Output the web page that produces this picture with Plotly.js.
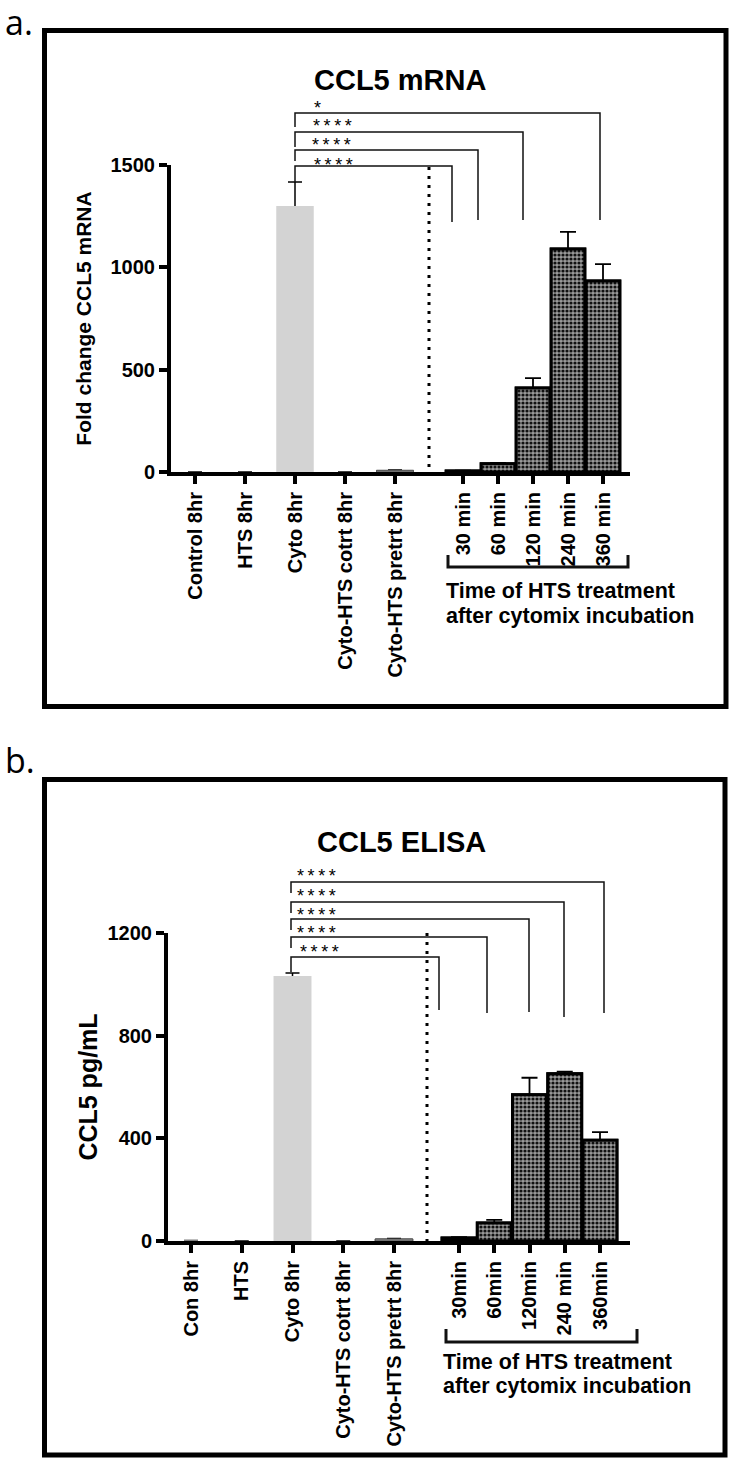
<!DOCTYPE html>
<html><head><meta charset="utf-8">
<script src="https://cdn.plot.ly/plotly-3.0.1.min.js"></script>
<style>html,body{margin:0;padding:0;background:#fff}</style>
</head><body><div id="chart" style="width:736px;height:1465px"></div>
<script>
// ---------- DATA ----------
// Panel a: CCL5 mRNA (fold change)
const catsA1 = ['Control 8hr', 'HTS 8hr', 'Cyto 8hr', 'Cyto-HTS cotrt 8hr', 'Cyto-HTS pretrt 8hr'];
const valsA1 = [1, 1, 1300, 1, 8];
const errA1  = [0, 0, 117, 0, 2];
const catsA2 = ['30 min', '60 min', '120 min', '240 min', '360 min'];
const valsA2 = [5, 40, 410, 1090, 933];
const errA2  = [1, 4, 49, 83, 83];
const ticksA = [0, 500, 1000, 1500];
const sigA   = ['*', '****', '****', '****'];

// Panel b: CCL5 ELISA (pg/mL)
const catsB1 = ['Con 8hr', 'HTS', 'Cyto 8hr', 'Cyto-HTS cotrt 8hr', 'Cyto-HTS pretrt 8hr'];
const valsB1 = [2, 1, 1032, 1, 8];
const errB1  = [0, 0, 12, 0, 2];
const catsB2 = ['30min', '60min', '120min', '240 min', '360min'];
const valsB2 = [12, 70, 570, 652, 393];
const errB2  = [3, 12, 66, 8, 31];
const ticksB = [0, 400, 800, 1200];
const sigB   = ['****', '****', '****', '****', '****'];

const titleA = 'CCL5 mRNA', ytitleA = 'Fold change CCL5 mRNA';
const titleB = 'CCL5 ELISA', ytitleB = 'CCL5 pg/mL';
const groupNote = ['Time of HTS treatment', 'after cytomix incubation'];

// ---------- LAYOUT HELPERS ----------
const W = 736, H = 1465;
const px = v => v / W;
const py = v => 1 - v / H;
const FONT = 'Liberation Sans, Arial, sans-serif';

function catRange(leftPx, rightPx, firstTickPx, stepPx) {
  return [(leftPx - firstTickPx) / stepPx, (rightPx - firstTickPx) / stepPx];
}

const axisBase = {
  showline: true, linecolor: '#000', linewidth: 4,
  ticks: 'outside', ticklen: 8, tickwidth: 4, tickcolor: '#000',
  showgrid: false, zeroline: false, fixedrange: true,
  tickfont: {family: FONT, size: 20, color: '#000', weight: 'bold'}
};

function xAxis(domL, domR, firstTick, step, anchor) {
  return Object.assign({}, axisBase, {
    type: 'category', domain: [px(domL), px(domR)],
    range: catRange(domL, domR, firstTick, step), anchor: anchor, tickangle: -90
  });
}
function yAxis(bottom, top, maxV, tickvals, anchor, title, tsize, standoff) {
  return Object.assign({}, axisBase, {
    domain: [py(bottom), py(top)], range: [0, maxV], tickvals: tickvals, anchor: anchor,
    title: {text: title, font: {family: FONT, size: tsize, color: '#000', weight: 'bold'}, standoff: standoff}
  });
}

const plainMarker = {color: ['#ffffff', '#ffffff', '#d3d3d3', '#ffffff', '#8c8c8c'],
                     line: {color: '#555', width: [0, 0, 0, 0, 1]}};
const patternMarker = {
  color: '#9a9a9a',
  pattern: {shape: '.', fgcolor: '#111', bgcolor: '#9a9a9a', size: 4, solidity: 0.5},
  line: {color: '#000', width: 3}
};

// each group: bars carrying the (upward) error bars, then the same bars drawn again on top
// so that only the part of the error bar above the bar is visible (GraphPad style)
function barGroup(cats, vals, errs, xa, ya, marker, width, thick, capw) {
  const withErr = {
    type: 'bar', x: cats, y: vals, xaxis: xa, yaxis: ya, width: width, marker: marker,
    error_y: {type: 'data', symmetric: false, array: errs, arrayminus: vals,
              color: '#000', thickness: thick, width: capw},
    hoverinfo: 'x+y', showlegend: false
  };
  const cover = {
    type: 'bar', x: cats, y: vals, xaxis: xa, yaxis: ya, width: width, marker: marker,
    hoverinfo: 'skip', showlegend: false
  };
  return [withErr, cover];
}

const traces = [].concat(
  barGroup(catsA1, valsA1, errA1, 'x', 'y', plainMarker, 0.74, 1.5, 7),
  barGroup(catsA2, valsA2, errA2, 'x2', 'y', patternMarker, 0.96, 1.8, 8),
  barGroup(catsB1, valsB1, errB1, 'x3', 'y2', plainMarker, 0.74, 1.5, 7),
  barGroup(catsB2, valsB2, errB2, 'x4', 'y2', patternMarker, 0.96, 1.8, 8)
);

// ---------- ANNOTATION GEOMETRY (pixels) ----------
const shapes = [];
const annotations = [];
function line(x0, y0, x1, y1, w, dash) {
  shapes.push({type: 'line', xref: 'paper', yref: 'paper', x0: px(x0), y0: py(y0), x1: px(x1), y1: py(y1),
               line: {color: '#000', width: w, dash: dash || 'solid'}});
}
function pathShape(pts, w) {
  const d = pts.map((p, i) => (i ? 'L' : 'M') + px(p[0]) + ',' + py(p[1])).join(' ');
  shapes.push({type: 'path', xref: 'paper', yref: 'paper', path: d, line: {color: '#111', width: w}});
}
function text(t, x, y, size, opts) {
  annotations.push(Object.assign({
    text: t, xref: 'paper', yref: 'paper', x: px(x), y: py(y), showarrow: false,
    xanchor: 'left', yanchor: 'middle', font: {family: FONT, size: size, color: '#000'}
  }, opts || {}));
}
const spaced = s => s.split('').join('\u2009');

// panel frames
shapes.push({type: 'rect', xref: 'paper', yref: 'paper', x0: px(44.5), x1: px(726), y0: py(30.5), y1: py(706.5), line: {color: '#000', width: 5}});
shapes.push({type: 'rect', xref: 'paper', yref: 'paper', x0: px(44.5), x1: px(725), y0: py(779.5), y1: py(1455), line: {color: '#000', width: 5}});

// dotted separators
line(429, 167, 429, 472, 3, '3px,6px');
line(427, 933, 427, 1241, 3, '3px,6px');

// significance brackets panel a
const STAR = 18;
const brA = [
  {y: 113, xl: 295, xr: 600, yl: 127, yr: 220, sx: 312, sy: 105},
  {y: 132, xl: 295, xr: 523, yl: 147, yr: 220, sx: 311, sy: 123},
  {y: 150, xl: 295, xr: 478, yl: 161, yr: 220, sx: 310, sy: 142},
  {y: 166, xl: 295, xr: 452, yl: 182, yr: 222, sx: 312, sy: 162}
];
brA.forEach((b, i) => {
  pathShape([[b.xl, b.yl], [b.xl, b.y], [b.xr, b.y], [b.xr, b.yr]], 1.5);
  text(spaced(sigA[i]), b.sx, b.sy + 3, STAR);
});
// significance brackets panel b
const brB = [
  {y: 882, xl: 291, xr: 604, yl: 893, yr: 1013, sx: 295, sy: 873},
  {y: 902, xl: 291, xr: 564, yl: 913, yr: 1017, sx: 295, sy: 893},
  {y: 919, xl: 291, xr: 529, yl: 930, yr: 1012, sx: 295, sy: 912},
  {y: 937, xl: 291, xr: 487, yl: 948, yr: 1013, sx: 295, sy: 930},
  {y: 957, xl: 291, xr: 439, yl: 972, yr: 1010, sx: 298, sy: 949}
];
brB.forEach((b, i) => {
  pathShape([[b.xl, b.yl], [b.xl, b.y], [b.xr, b.y], [b.xr, b.yr]], 1.5);
  text(spaced(sigB[i]), b.sx, b.sy + 3, STAR);
});

// group brackets under minute labels
pathShape([[448, 555], [448, 567], [628, 567], [628, 555]], 3);
pathShape([[446, 1329], [446, 1342], [637, 1342], [637, 1329]], 3);
const noteFont = {family: FONT, size: 21.5, color: '#000', weight: 'bold'};
text(groupNote[0], 444, 591, 21.5, {font: noteFont});
text(groupNote[1], 444, 616, 21.5, {font: noteFont});
text(groupNote[0], 441, 1362, 21.5, {font: noteFont});
text(groupNote[1], 441, 1386, 21.5, {font: noteFont});

// panel titles
const titleFont = {family: FONT, size: 29, color: '#000', weight: 'bold'};
text(titleA, 400, 80, 29, {xanchor: 'center', font: titleFont});
text(titleB, 401, 842, 29, {xanchor: 'center', font: titleFont});

// panel letters
const letterFont = {family: 'Open Sans, Noto Sans, sans-serif', size: 34, color: '#000'};
text('a.', 3, 22, 34, {font: letterFont});
text('b.', 3, 760, 34, {font: letterFont});

const layout = {
  width: W, height: H, margin: {l: 0, r: 0, t: 0, b: 0},
  paper_bgcolor: '#fff', plot_bgcolor: 'rgba(0,0,0,0)',
  showlegend: false, barmode: 'overlay', bargap: 0,
  xaxis:  xAxis(171, 429, 195, 50, 'y'),
  xaxis2: xAxis(429, 630, 463, 35, 'y'),
  xaxis3: xAxis(168, 427, 191, 50.75, 'y2'),
  xaxis4: xAxis(427, 630, 459, 35.25, 'y2'),
  yaxis:  yAxis(472, 165, 1500, ticksA, 'x', ytitleA, 21, 14),
  yaxis2: yAxis(1241, 933, 1200, ticksB, 'x3', ytitleB, 25, 4),
  shapes: shapes, annotations: annotations
};

Plotly.newPlot('chart', traces, layout, {displayModeBar: false, staticPlot: true});
</script></body></html>
